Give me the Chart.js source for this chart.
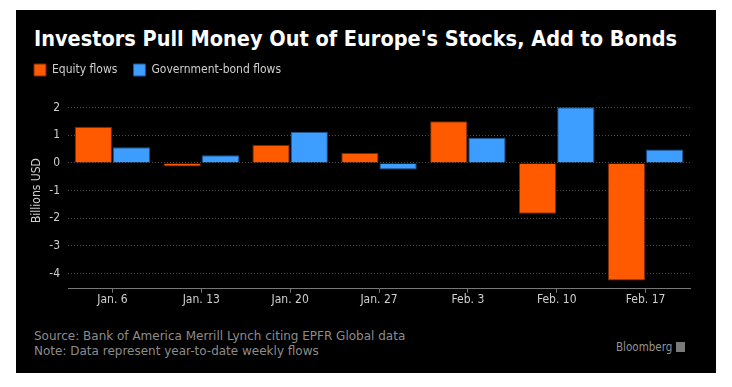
<!DOCTYPE html>
<html>
<head>
<meta charset="utf-8">
<script src="https://cdn.jsdelivr.net/npm/chart.js@4.4.1/dist/chart.umd.min.js"></script>
<style>
  body { margin: 0; background: #fff; width: 732px; height: 387px; overflow: hidden;
         font-family: "DejaVu Sans Condensed", "DejaVu Sans", sans-serif; }
  #panel { position: absolute; left: 16px; top: 10px; width: 700px; height: 363px; background: #000; }
  #title { position: absolute; left: 18px; top: 16px; color: #fff; font-weight: bold; font-size: 21.5px; white-space: nowrap; }
  #wrap { position: absolute; left: 0; top: 38px; width: 700px; height: 271px; }
  #notes { position: absolute; left: 18px; top: 319px; color: #8c8c8c; font-family: "DejaVu Sans", sans-serif;
           font-size: 12px; line-height: 14.5px; white-space: nowrap; }
  #brand { position: absolute; left: 600px; top: 330px; color: #949494; font-size: 11.5px; white-space: nowrap; }
  #logo { display: inline-block; width: 9px; height: 10px; background: #7a7a7a; margin-left: 4px; vertical-align: -1px; }
</style>
</head>
<body>
<div id="panel">
  <div id="title">Investors Pull Money Out of Europe's Stocks, Add to Bonds</div>
  <div id="wrap"><canvas id="chart"></canvas></div>
  <div id="notes">Source: Bank of America Merrill Lynch citing EPFR Global data<br>Note: Data represent year-to-date weekly flows</div>
  <div id="brand">Bloomberg<span id="logo"></span></div>
</div>
<script>
const weeks = ['Jan. 6', 'Jan. 13', 'Jan. 20', 'Jan. 27', 'Feb. 3', 'Feb. 10', 'Feb. 17'];
const equityFlows = [1.31, -0.13, 0.65, 0.36, 1.51, -1.84, -4.25];
const bondFlows = [0.57, 0.28, 1.12, -0.24, 0.91, 2.02, 0.49];
const yTicks = [2, 1, 0, -1, -2, -3, -4];

const font = { family: '"DejaVu Sans Condensed", "DejaVu Sans", sans-serif', size: 12 };

new Chart(document.getElementById('chart'), {
    type: 'bar',
    data: {
        labels: weeks,
        datasets: [
            {
                label: 'Equity flows',
                data: equityFlows,
                backgroundColor: '#ff5a00',
                borderColor: '#7a2c00',
                borderWidth: 1,
            },
            {
                label: 'Government-bond flows',
                data: bondFlows,
                backgroundColor: '#3d9eff',
                borderColor: '#1d5590',
                borderWidth: 1,
            }
        ]
    },
    options: {
        responsive: true,
        maintainAspectRatio: false,
        animation: false,
        datasets: { bar: { categoryPercentage: 0.86, barPercentage: 0.975 } },
        layout: { padding: { left: 2, right: 26, top: 0, bottom: 0 } },
        plugins: {
            legend: {
                position: 'top',
                align: 'start',
                labels: { boxWidth: 12, boxHeight: 12, padding: 16, color: '#cfcfcf', font }
            },
            tooltip: { enabled: false }
        },
        scales: {
            x: {
                grid: { offset: false, drawOnChartArea: false, tickLength: 4, color: '#777' },
                border: { color: '#777' },
                ticks: { color: '#cfcfcf', padding: 0, maxRotation: 0, font },
                afterFit: (scale) => { scale.height = 30.3; }
            },
            y: {
                min: -4.55,
                max: 2.55,
                afterBuildTicks: (scale) => { scale.ticks = yTicks.map(v => ({ value: v })); },
                afterFit: (scale) => { scale.width = 50; },
                grid: { drawTicks: false, color: '#4a4a4a' },
                border: { display: false, dash: [1, 2] },
                ticks: { color: '#cfcfcf', padding: 8, font },
                title: { display: true, text: 'Billions USD', color: '#cfcfcf', font, padding: { top: 12, bottom: 0 } }
            }
        }
    },
    plugins: [{
        // push the plot down below the legend, as in the original
        id: 'legendGap',
        beforeInit(chart) {
            const fit = chart.legend.fit;
            chart.legend.fit = function () { fit.call(this); this.height += 6.5; };
        }
    }]
});
</script>
</body>
</html>
